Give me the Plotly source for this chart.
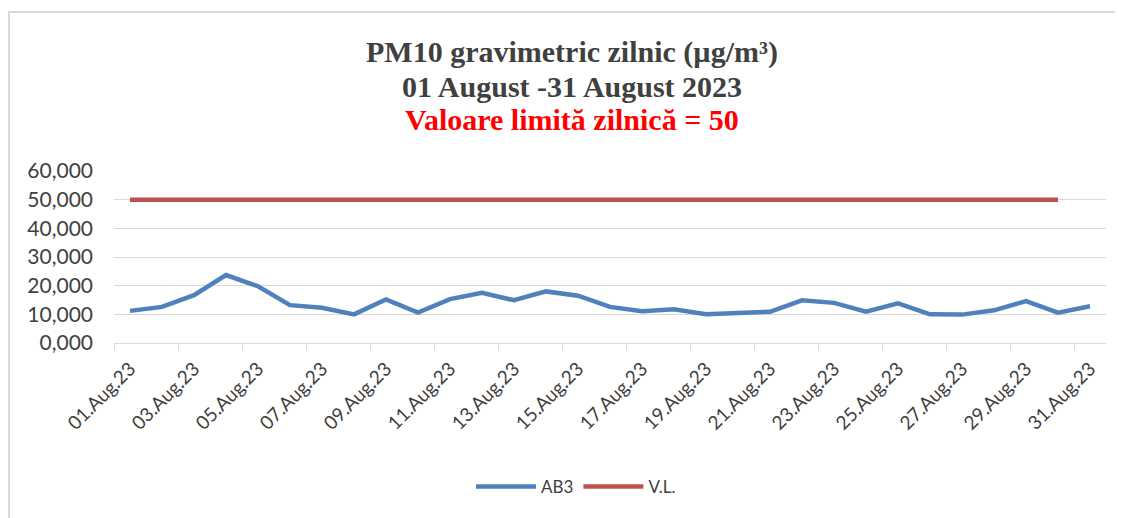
import plotly.graph_objects as go

dates = [f"{d:02d}.Aug.23" for d in range(1, 32)]
ab3 = [11.2, 12.6, 16.7, 23.7, 19.8, 13.2, 12.3, 10.0, 15.2, 10.6,
       15.3, 17.5, 14.9, 18.0, 16.5, 12.6, 11.1, 11.8, 10.0, 10.4,
       10.9, 14.9, 14.0, 10.9, 13.8, 10.0, 9.9, 11.4, 14.6, 10.6, 12.8]
vl_dates = dates[:30]
vl = [50] * 30
title_lines = ["PM10 gravimetric zilnic (µg/m³)", "01 August -31 August 2023",
               "Valoare limită zilnică = 50"]

OFF = 8  # page body margin
W, H = 1123 - OFF, 518 - OFF
L, R, T, B = 114 - OFF, 17, 171 - OFF, 175
pw, ph = W - L - R, H - T - B

def px2x(px):
    return (px - OFF - L) / pw

def py2y(py):
    return (H - B - (py - OFF)) / ph

fig = go.Figure()
fig.add_trace(go.Scatter(x=dates, y=ab3, name="AB3", mode="lines",
                         line=dict(color="#4f81bd", width=4.5)))
fig.add_trace(go.Scatter(x=vl_dates, y=vl, name="V.L.", mode="lines",
                         line=dict(color="#c0504d", width=4.5)))

title_font = "Liberation Serif, Times New Roman, serif"
annotations = []
for txt, yy, col in zip(title_lines, [52, 86, 120], ["#404040", "#404040", "#ff0000"]):
    annotations.append(dict(text=f"<b>{txt}</b>", xref="paper", yref="paper",
                            x=px2x(572), y=py2y(yy), xanchor="center", yanchor="middle",
                            showarrow=False,
                            font=dict(family=title_font, size=30, color=col)))

fig.update_layout(
    width=W, height=H,
    margin=dict(l=L, r=R, t=T, b=B),
    paper_bgcolor="white", plot_bgcolor="white",
    separators=",.",
    annotations=annotations,
    showlegend=True,
    legend=dict(orientation="h", x=px2x(576), xanchor="center", y=py2y(487), yanchor="middle",
                font=dict(family="Lato, Open Sans, sans-serif", size=17, color="#404040"),
                itemwidth=60),
    xaxis=dict(type="category", range=[-0.5, 30.5], tickmode="linear", tick0=0, dtick=2,
               tickson="boundaries", ticks="outside", ticklen=6, tickcolor="#d9d9d9",
               showline=True, linecolor="#d9d9d9", linewidth=1.3, showgrid=False,
               tickangle=-45, ticklabelstandoff=6,
               tickfont=dict(family="Lato, Open Sans, sans-serif", size=19, color="#404040"),
               zeroline=False),
    yaxis=dict(range=[0, 60], dtick=10, tickformat=".3f", showgrid=True, gridcolor="#d9d9d9",
               gridwidth=1.3, zeroline=False, showline=False, ticks="",
               ticklabelstandoff=20,
               tickfont=dict(family="Lato, Open Sans, sans-serif", size=21, color="#404040")),
    shapes=[
        dict(type="line", xref="paper", yref="paper", x0=px2x(OFF), x1=px2x(1123),
             y0=py2y(12), y1=py2y(12), line=dict(color="#d9d9d9", width=2)),
        dict(type="line", xref="paper", yref="paper", x0=px2x(OFF + 1), x1=px2x(OFF + 1),
             y0=py2y(12), y1=py2y(518), line=dict(color="#d9d9d9", width=2)),
    ],
)

fig.write_html("out.html")
